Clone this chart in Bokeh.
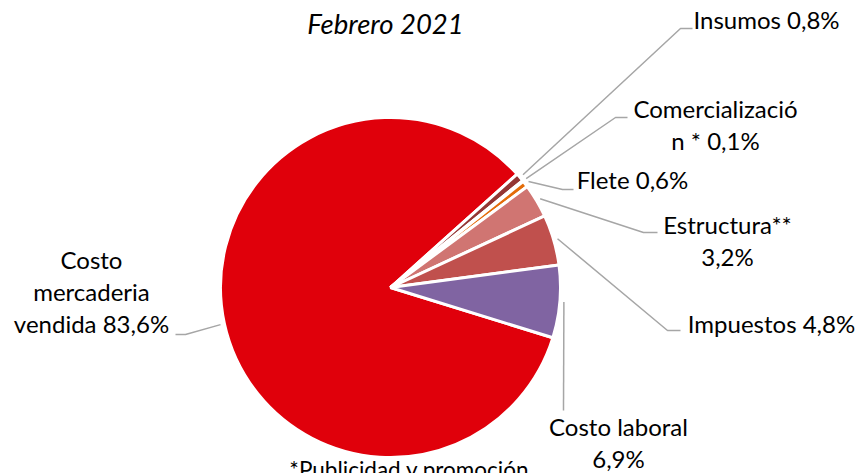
import math
from bokeh.plotting import figure
from bokeh.models import Range1d, ColumnDataSource
from bokeh.core.properties import value
from bokeh.embed import file_html
from bokeh.resources import INLINE

# ---- data ----
categories = ["Costo mercaderia vendida", "Insumos", "Comercialización *", "Flete",
              "Estructura**", "Impuestos", "Costo laboral"]
values = [83.6, 0.8, 0.1, 0.6, 3.2, 4.8, 6.9]
label_templates = ["Costo\nmercaderia\nvendida {}%", "Insumos {}%", "Comercializació\nn * {}%",
                   "Flete {}%", "Estructura**\n{}%", "Impuestos {}%", "Costo laboral\n{}%"]
subtitle = "Febrero 2021"
footnote = "*Publicidad y promoción"

# ---- style / layout ----
colors = ["#E0000B", "#943634", "#A5A5A5", "#E46C0A", "#D07572", "#C0504D", "#8064A2"]
FONT = "Lato"
FS = "24px"
TDY = -9                           # baseline correction for text
cx, cy, R = 390, 287, 170          # picture px
a0 = math.radians(-17.2)           # start angle of first slice (clockwise)
# label anchor: (center x, first baseline y), leader elbow, leader end
label_pos = [(91, 268), (766, 28), (715, 117), (632, 188), (727, 233), (771, 332), (618, 435)]
elbows = [(185, 334), (680, 28), (615, 117), (562, 189), (643, 232), (667, 330), (563, 410)]
ends = [(175, 334), (692, 28), (627, 117), (573, 189), (657, 232), (680, 330), (563, 410)]
LINE_H = 32

W, H = 862, 473
p = figure(width=W, height=H, x_range=Range1d(0, W), y_range=Range1d(-H, 0),
           min_border=0, toolbar_location=None, output_backend="svg")
p.axis.visible = False
p.grid.visible = False
p.outline_line_color = None
p.background_fill_color = "white"

total = sum(values)
cum = 0.0
starts, endsA, mids = [], [], []
for v in values:
    a_start = a0 - 2 * math.pi * cum / total
    cum += v
    a_end = a0 - 2 * math.pi * cum / total
    starts.append(a_end)
    endsA.append(a_start)
    mids.append((a_start + a_end) / 2)

src = ColumnDataSource(dict(start=starts, end=endsA, color=colors, name=categories, val=values))
p.wedge(x=cx, y=-cy, radius=R, start_angle="start", end_angle="end", fill_color="color",
        line_color="white", line_width=3, source=src)

# leader lines
xs, ys = [], []
for m, el, en in zip(mids, elbows, ends):
    sx = cx + (R + 4) * math.cos(m)
    sy = cy - (R + 4) * math.sin(m)
    xs.append([sx, el[0], en[0]])
    ys.append([-sy, -el[1], -en[1]])
p.multi_line(xs=xs, ys=ys, line_color="#A6A6A6", line_width=1.5)

# labels
tx, ty, tt = [], [], []
for tpl, v, (lx, ly) in zip(label_templates, values, label_pos):
    txt = tpl.format(f"{v:.1f}".replace(".", ","))
    for i, line in enumerate(txt.split("\n")):
        tx.append(lx)
        ty.append(-(ly + i * LINE_H + TDY))
        tt.append(line)
p.text(x=tx, y=ty, text=tt, text_align="center", text_baseline="alphabetic",
       text_font=value(FONT), text_font_size=FS, text_color="#000000")

p.text(x=[385], y=[-(33 + TDY - 1)], text=[subtitle], text_align="center", text_baseline="alphabetic",
       text_font=value(FONT), text_font_size="27.5px", text_font_style="italic", text_color="#000000")
p.text(x=[409], y=[-(478 + TDY)], text=[footnote], text_align="center", text_baseline="alphabetic",
       text_font=value(FONT), text_font_size="22.5px", text_color="#000000")

open("out.html", "w").write(file_html(p, INLINE))
